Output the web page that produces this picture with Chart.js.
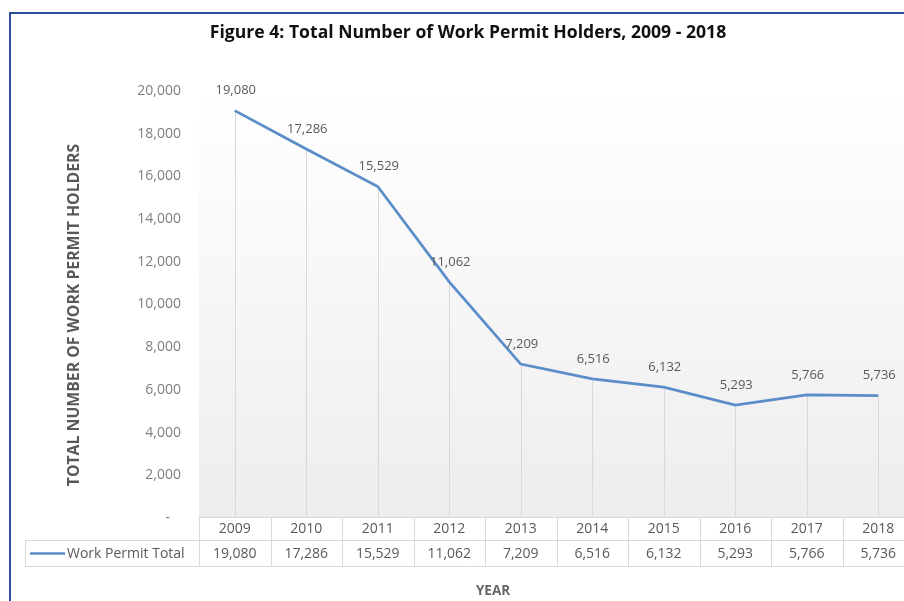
<!DOCTYPE html>
<html>
<head>
<meta charset="utf-8">
<script src="https://cdn.jsdelivr.net/npm/chart.js@4.4.1/dist/chart.umd.min.js"></script>
<style>
  html, body { margin: 0; padding: 0; background: #fff; overflow: hidden; }
  #wrap { width: 904px; height: 601px; overflow: hidden; position: relative; }
  #c { display: block; }
</style>
</head>
<body>
<div id="wrap"><canvas id="c" width="914" height="601"></canvas></div>
<script>
// --- data ---
const years = ['2009', '2010', '2011', '2012', '2013', '2014', '2015', '2016', '2017', '2018'];
const permitTotals = [19080, 17286, 15529, 11062, 7209, 6516, 6132, 5293, 5766, 5736];
const yTicks = [0, 2000, 4000, 6000, 8000, 10000, 12000, 14000, 16000, 18000, 20000];

const seriesName = 'Work Permit Total';
const chartTitle = 'Figure 4: Total Number of Work Permit Holders, 2009 - 2018';
const yTitle = 'TOTAL NUMBER OF WORK PERMIT HOLDERS';
const xTitle = 'YEAR';

const lineColor = '#5b8dc8';
const gridGray = '#d9d9d9';
const textGray = '#595959';
const fontFam = '"Open Sans", "Noto Sans", sans-serif';
const fmt = v => v.toLocaleString('en-US');

// --- custom drawing: background, drop lines, labels, table, titles ---
const decor = {
  id: 'decor',
  beforeDraw(chart) {
    const { ctx, chartArea: a } = chart;
    ctx.save();
    const g = ctx.createLinearGradient(0, a.top, 0, a.bottom);
    g.addColorStop(0, '#ffffff');
    g.addColorStop(1, '#ededed');
    ctx.fillStyle = g;
    ctx.fillRect(a.left, a.top, a.right - a.left, a.bottom - a.top);
    ctx.restore();
  },
  beforeDatasetsDraw(chart) {
    const { ctx, chartArea: a } = chart;
    const meta = chart.getDatasetMeta(0);
    ctx.save();
    ctx.strokeStyle = gridGray;
    ctx.lineWidth = 1;
    meta.data.forEach(p => {
      const x = Math.round(p.x) + 0.5;
      ctx.beginPath();
      ctx.moveTo(x, p.y);
      ctx.lineTo(x, a.bottom);
      ctx.stroke();
    });
    ctx.restore();
  },
  afterDatasetsDraw(chart) {
    const { ctx, chartArea: a, scales: { x: xs } } = chart;
    const meta = chart.getDatasetMeta(0);
    ctx.save();

    // data labels
    ctx.fillStyle = textGray;
    ctx.font = '13px ' + fontFam;
    ctx.textAlign = 'center';
    ctx.textBaseline = 'middle';
    meta.data.forEach((p, i) => {
      ctx.fillText(fmt(permitTotals[i]), p.x + 1, p.y - 20);
    });

    // data table
    const r0 = a.bottom - 1, r1 = r0 + 23, r2 = r1 + 26;
    const half = (xs.getPixelForValue(1) - xs.getPixelForValue(0)) / 2;
    const tLeft = 25;
    ctx.strokeStyle = gridGray;
    ctx.lineWidth = 1;
    ctx.beginPath();
    ctx.moveTo(a.left, r0 + 0.5); ctx.lineTo(a.right, r0 + 0.5);
    ctx.moveTo(tLeft, r1 + 0.5); ctx.lineTo(a.right, r1 + 0.5);
    ctx.moveTo(tLeft, r2 + 0.5); ctx.lineTo(a.right, r2 + 0.5);
    ctx.moveTo(tLeft + 0.5, r1); ctx.lineTo(tLeft + 0.5, r2);
    for (let i = 0; i <= years.length; i++) {
      const x = Math.round(xs.getPixelForValue(0) - half + i * 2 * half) + 0.5;
      ctx.moveTo(x, r0); ctx.lineTo(x, r2);
    }
    ctx.stroke();

    ctx.font = '14px ' + fontFam;
    ctx.fillStyle = textGray;
    years.forEach((y, i) => {
      const x = xs.getPixelForValue(i);
      ctx.fillText(y, x, (r0 + r1) / 2 + 1);
      ctx.fillText(fmt(permitTotals[i]), x, (r1 + r2) / 2 + 1);
    });
    // legend key in table
    ctx.strokeStyle = lineColor;
    ctx.lineWidth = 2.5;
    ctx.beginPath();
    ctx.moveTo(30, (r1 + r2) / 2 + 0.5);
    ctx.lineTo(65, (r1 + r2) / 2 + 0.5);
    ctx.stroke();
    ctx.textAlign = 'left';
    ctx.fillText(seriesName, 67, (r1 + r2) / 2 + 1);

    // titles
    ctx.textAlign = 'center';
    ctx.fillStyle = '#111';
    ctx.font = 'bold 17.6px ' + fontFam;
    ctx.fillText(chartTitle, 468, 33);

    ctx.fillStyle = '#666';
    ctx.font = 'bold 13.5px ' + fontFam;
    ctx.fillText(xTitle, 493, 591);

    ctx.save();
    ctx.translate(74, 315);
    ctx.rotate(-Math.PI / 2);
    ctx.fillStyle = textGray;
    ctx.font = 'bold 15.8px ' + fontFam;
    ctx.fillText(yTitle, 0, 0);
    ctx.restore();

    // frame
    ctx.strokeStyle = '#2e4d9e';
    ctx.lineWidth = 2;
    ctx.beginPath();
    ctx.moveTo(10, 601);
    ctx.lineTo(10, 13);
    ctx.lineTo(914, 13);
    ctx.stroke();

    ctx.restore();
  }
};

new Chart(document.getElementById('c'), {
  type: 'line',
  data: {
    labels: years,
    datasets: [{
      label: seriesName,
      data: permitTotals,
      borderColor: lineColor,
      borderWidth: 2.75,
      pointRadius: 0,
      tension: 0,
      fill: false
    }]
  },
  options: {
    responsive: false,
    animation: false,
    layout: { padding: { top: 91, left: 0, right: 0, bottom: 0 } },
    plugins: {
      legend: { display: false },
      tooltip: { enabled: false },
      title: { display: false }
    },
    scales: {
      x: {
        offset: true,
        grid: { display: false, drawTicks: false },
        border: { display: false },
        ticks: { display: false },
        afterFit(s) { s.height = 83; }
      },
      y: {
        min: 0,
        max: 20000,
        grid: { display: false, drawTicks: false },
        border: { display: false },
        afterBuildTicks(s) { s.ticks = yTicks.map(v => ({ value: v })); },
        afterFit(s) { s.width = 199; },
        ticks: {
          padding: 18,
          color: '#7f7f7f',
          font: { family: fontFam, size: 14 },
          callback: v => v === 0 ? '-   ' : fmt(v)
        }
      }
    }
  },
  plugins: [decor]
});
</script>
</body>
</html>
